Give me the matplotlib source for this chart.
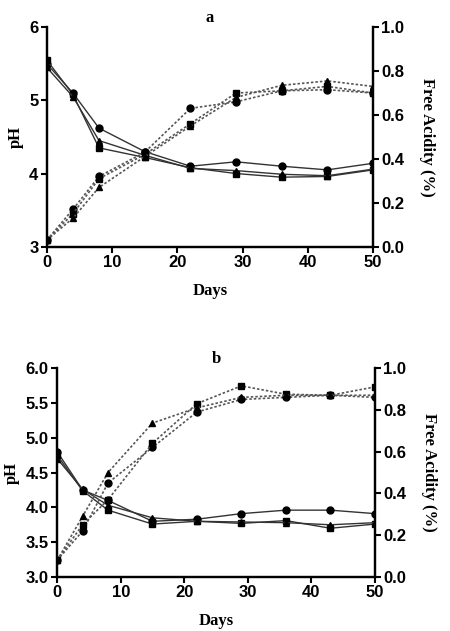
import matplotlib
matplotlib.use("Agg")
import matplotlib.pyplot as plt
from matplotlib.ticker import FormatStrFormatter

days = [0, 4, 8, 15, 22, 29, 36, 43, 50]

# Panel a - pH (solid)
a_ph_circle = [5.50, 5.10, 4.62, 4.30, 4.10, 4.16, 4.10, 4.05, 4.14]
a_ph_square = [5.55, 5.08, 4.35, 4.22, 4.08, 4.00, 3.95, 3.96, 4.05]
a_ph_triangle = [5.45, 5.05, 4.45, 4.25, 4.07, 4.04, 3.99, 3.97, 4.06]
# Panel a - free acidity (dotted)
a_fa_circle = [0.03, 0.17, 0.32, 0.43, 0.63, 0.66, 0.71, 0.715, 0.70]
a_fa_square = [0.03, 0.15, 0.31, 0.42, 0.56, 0.70, 0.71, 0.73, 0.70]
a_fa_triangle = [0.03, 0.13, 0.27, 0.41, 0.55, 0.68, 0.735, 0.755, 0.73]

# Panel b - pH (solid)
b_ph_circle = [4.80, 4.25, 4.10, 3.80, 3.83, 3.91, 3.96, 3.96, 3.91]
b_ph_square = [4.75, 4.24, 3.96, 3.76, 3.80, 3.77, 3.81, 3.70, 3.76]
b_ph_triangle = [4.70, 4.26, 4.03, 3.85, 3.80, 3.79, 3.78, 3.75, 3.78]
# Panel b - free acidity (dotted)
b_fa_circle = [0.08, 0.22, 0.45, 0.62, 0.79, 0.85, 0.86, 0.87, 0.86]
b_fa_square = [0.08, 0.25, 0.37, 0.64, 0.83, 0.915, 0.875, 0.87, 0.91]
b_fa_triangle = [0.08, 0.29, 0.50, 0.737, 0.81, 0.86, 0.87, 0.87, 0.87]

tick_font = {"family": "Liberation Sans", "weight": "bold", "size": 12}
label_font = {"family": "Liberation Serif", "weight": "bold", "size": 12}

fig = plt.figure(figsize=(4.5, 6.31), dpi=100)

def panel(rect, title, ph, fa, ylim, yticks, yfmt):
    ax = fig.add_axes(rect)
    ax2 = ax.twinx()
    markers = ["o", "s", "^"]
    for vals, m in zip(ph, markers):
        ax.plot(days, vals, color="#333333", lw=1.0, marker=m, ms=5,
                mfc="black", mec="black", zorder=3)
    for vals, m in zip(fa, markers):
        ax2.plot(days, vals, color="#555555", lw=1.2, ls=(0, (1.5, 1.2)),
                 marker=m, ms=5, mfc="black", mec="black")
    ax.set_xlim(0, 50)
    ax.set_ylim(*ylim)
    ax.set_yticks(yticks)
    ax.yaxis.set_major_formatter(FormatStrFormatter(yfmt))
    ax.set_xticks([0, 10, 20, 30, 40, 50])
    ax2.set_ylim(0, 1.0)
    ax2.set_yticks([0.0, 0.2, 0.4, 0.6, 0.8, 1.0])
    ax2.yaxis.set_major_formatter(FormatStrFormatter("%.1f"))
    for a in (ax, ax2):
        a.spines["top"].set_visible(False)
        for s in ("left", "right", "bottom"):
            a.spines[s].set_linewidth(1.6)
        a.tick_params(width=1.5, length=4, pad=2)
        for lab in a.get_xticklabels() + a.get_yticklabels():
            lab.set_fontproperties(matplotlib.font_manager.FontProperties(**tick_font))
    ax.set_xlabel("Days", fontdict=label_font, labelpad=9)
    ax.set_ylabel("pH", fontdict=label_font, labelpad=4)
    ax2.set_ylabel("Free Acidity (%)", fontdict=label_font, rotation=270, labelpad=22)
    ax.set_title(title, fontdict={"family": "Liberation Serif", "weight": "bold", "size": 12}, pad=4)
    return ax, ax2

panel([0.104, 0.609, 0.725, 0.348], "a",
      [a_ph_circle, a_ph_square, a_ph_triangle],
      [a_fa_circle, a_fa_square, a_fa_triangle],
      (3, 6), [3, 4, 5, 6], "%d")
panel([0.127, 0.0856, 0.706, 0.331], "b",
      [b_ph_circle, b_ph_square, b_ph_triangle],
      [b_fa_circle, b_fa_square, b_fa_triangle],
      (3.0, 6.0), [3.0, 3.5, 4.0, 4.5, 5.0, 5.5, 6.0], "%.1f")

fig.savefig("out.png", dpi=100)
